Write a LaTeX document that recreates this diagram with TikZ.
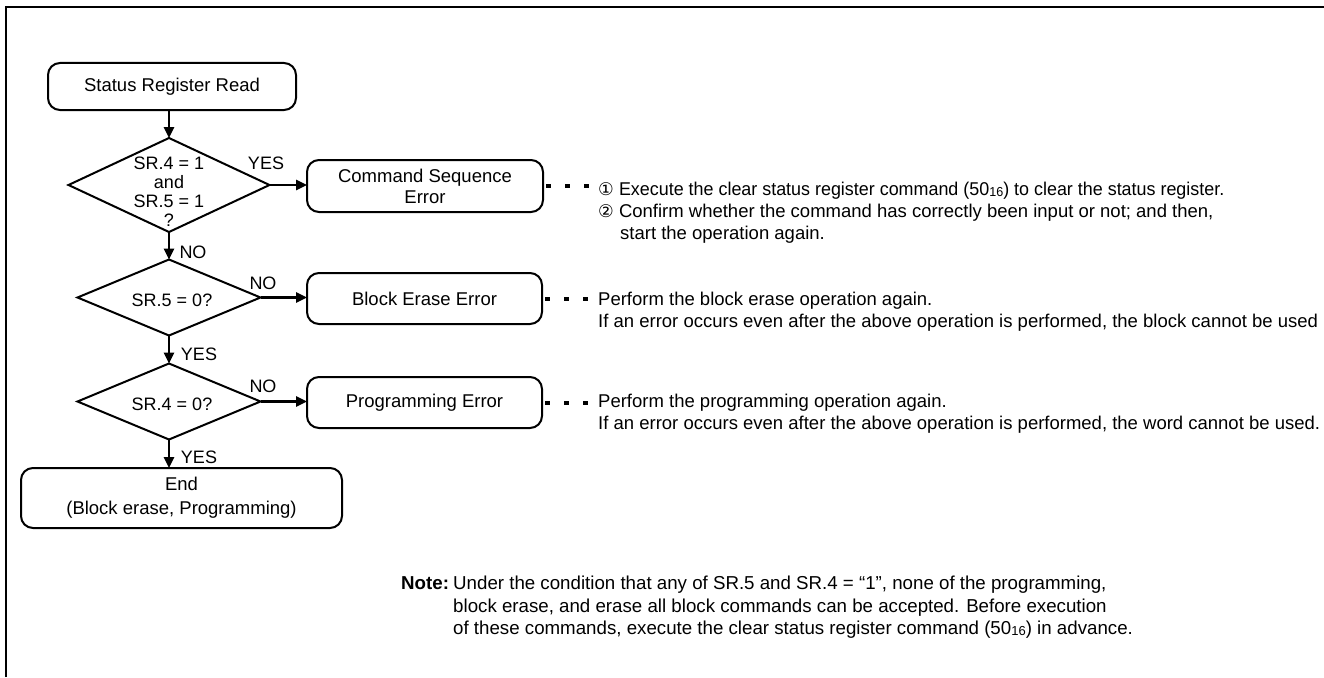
\documentclass[tikz,border=0pt]{standalone}
\usepackage{fontspec}
\setmainfont{Liberation Sans}
\newfontfamily\djv{DejaVu Sans}
\usetikzlibrary{shapes.geometric,arrows.meta}
\newcommand{\sixteen}{\raisebox{-0.8pt}{\fontsize{13}{13}\selectfont 16}}
\begin{document}
\begin{tikzpicture}[x=1pt,y=-1pt,
  flowbox/.style={draw, line width=2, rounded corners=12, align=center, inner sep=0, outer sep=0,
    font=\fontsize{18.5}{22}\selectfont},
  dec/.style={draw, diamond, line width=2, inner sep=0, outer sep=0},
  dtext/.style={align=center, inner sep=0, font=\fontsize{18}{19}\selectfont},
  lab/.style={inner sep=0, font=\fontsize{18}{20}\selectfont},
  arr/.style={line width=2.5, -{Triangle[length=11,width=10]}},
  ann/.style={anchor=base west, inner sep=0, font=\fontsize{18.5}{20}\selectfont},
  notet/.style={anchor=base west, inner sep=0, font=\fontsize{18.7}{20}\selectfont},
  dots/.style={line width=4, dash pattern=on 5 off 14}]
\useasboundingbox (0,0) rectangle (1324,677);
\draw[line width=2] (6,677) -- (6,7) -- (1324,7);

% flow nodes
\node[flowbox, minimum width=248, minimum height=47] (srr) at (172,86.5) {Status Register Read};
\node[dec, minimum width=201, minimum height=94] (d1) at (169,185) {};
\node[dtext] (d1t) at (169,192) {SR.4 = 1\\and\\SR.5 = 1\\?};
\node[flowbox, minimum width=236, minimum height=52, font=\fontsize{18.5}{21}\selectfont] (cse) at (425,186) {Command Sequence\\Error};
\node[dec, minimum width=183, minimum height=76] (d2) at (169,297.5) {};
\node[dtext] (d2t) at (172,300) {SR.5 = 0?};
\node[flowbox, minimum width=235, minimum height=51] (bee) at (424.5,298.5) {Block Erase Error};
\node[dec, minimum width=183, minimum height=76] (d3) at (169,401.5) {};
\node[dtext] (d3t) at (172,404) {SR.4 = 0?};
\node[flowbox, minimum width=235, minimum height=51] (pe) at (424.5,402.5) {Programming Error};
\node[flowbox, minimum width=321, minimum height=60, font=\fontsize{18.5}{24}\selectfont] (end) at (181.5,498) {End\\(Block erase, Programming)};

% arrows
\draw[arr] (srr.south -| d1.north) -- (d1.north);
\draw[arr] (d1.east) -- (d1.east -| cse.west);
\draw[arr] (d1.south) -- (d2.north);
\draw[arr] (d2.east) -- (d2.east -| bee.west);
\draw[arr] (d2.south) -- (d3.north);
\draw[arr] (d3.east) -- (d3.east -| pe.west);
\draw[arr] (d3.south) -- (d3.south |- end.north);

% labels
\node[lab] (l1) at (266,163) {YES};
\node[lab] (l2) at (193,252) {NO};
\node[lab] (l3) at (263,283) {NO};
\node[lab] (l4) at (199,354) {YES};
\node[lab] (l5) at (263,386) {NO};
\node[lab] (l6) at (199,457) {YES};

% annotations
\node[ann] (a1a) at (598,195.6) {{\djv\fontsize{17.5}{17.5}\selectfont ①} \scalebox{0.968}[1]{Execute the clear status register command (50\sixteen) to clear the status register.}};
\node[ann] (a1b) at (598,217.6) {{\djv\fontsize{17.5}{17.5}\selectfont ②} Confirm whether the command has correctly been input or not; and then,};
\node[ann] (a1c) at (620,239.6) {start the operation again.};
\node[ann] (a2a) at (598,305.4) {Perform the block erase operation again.};
\node[ann] (a2b) at (598,327.4) {If an error occurs even after the above operation is performed, the block cannot be used};
\node[ann] (a3a) at (598,407.3) {Perform the programming operation again.};
\node[ann] (a3b) at (598,429) {If an error occurs even after the above operation is performed, the word cannot be used.};

\draw[dots] ([xshift=3]cse.east) -- (cse.east -| a1a.west);
\draw[dots] ([xshift=3]bee.east) -- (bee.east -| a2a.west);
\draw[dots] ([xshift=3]pe.east) -- (pe.east -| a3a.west);

% note
\node[notet] (nl) at (401,589.6) {\textbf{Note:}};
\node[notet] (n1) at (453,589.6) {Under the condition that any of SR.5 and SR.4 = “1”, none of the programming,};
\node[notet] (n2) at (453,612.6) {block erase, and erase all block commands can be accepted. Before execution};
\node[notet] (n3) at (453,634.6) {of these commands, execute the clear status register command (50\sixteen) in advance.};
\end{tikzpicture}
\end{document}
